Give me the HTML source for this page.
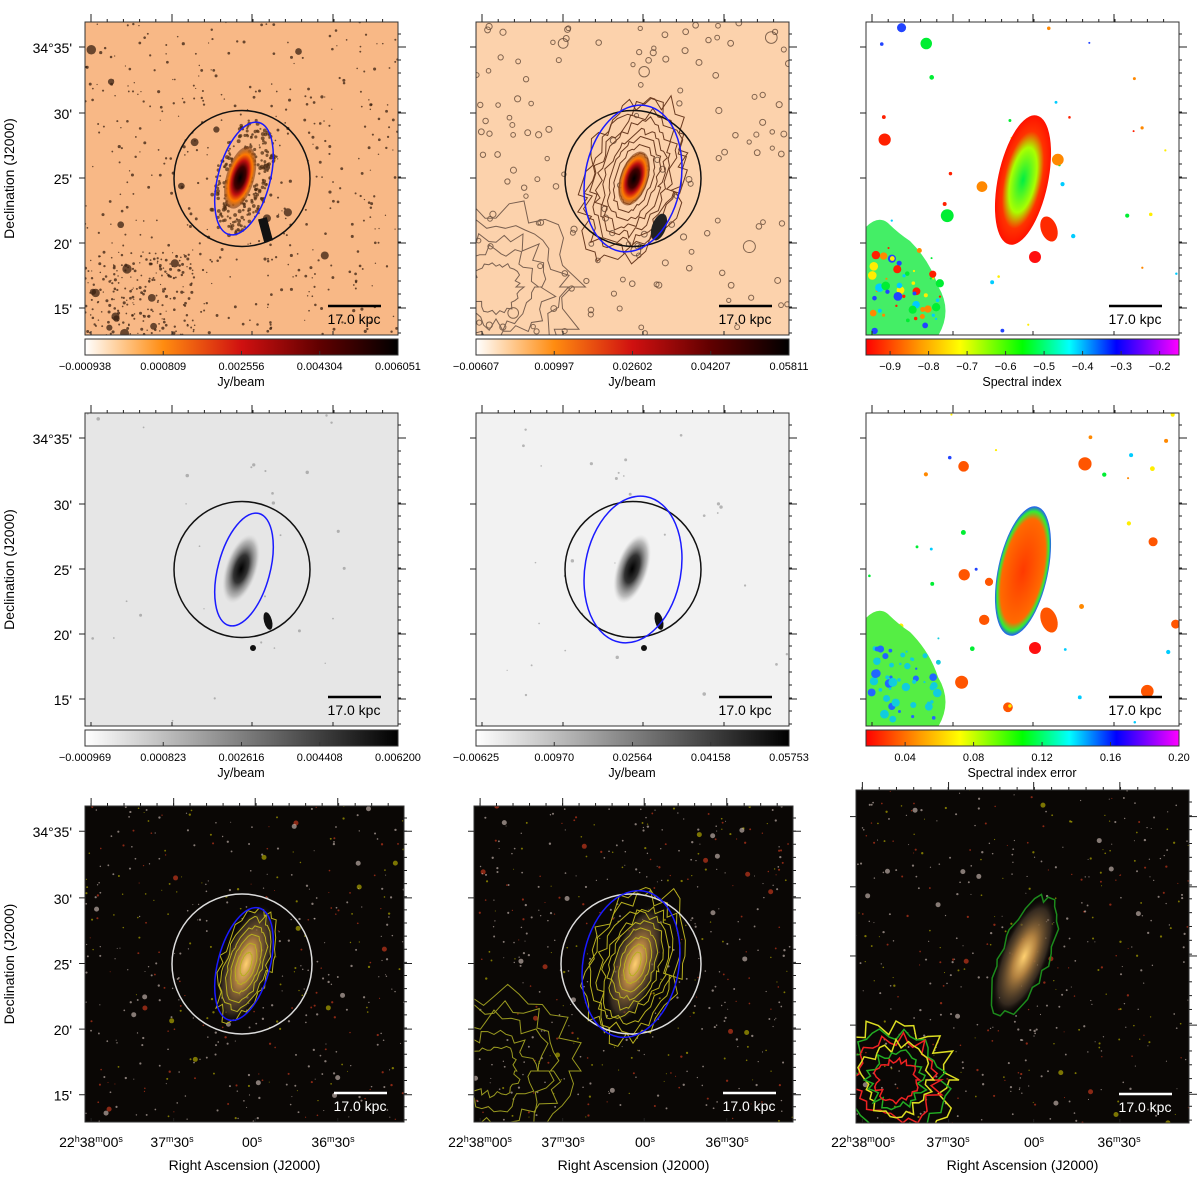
<!DOCTYPE html>
<html><head><meta charset="utf-8">
<style>
html,body{margin:0;padding:0;background:#fff;}
svg{display:block;font-family:"Liberation Sans","DejaVu Sans",sans-serif;}
</style></head>
<body>
<svg id="fig" width="1200" height="1185" viewBox="0 0 1200 1185" xmlns="http://www.w3.org/2000/svg">
<defs>
<linearGradient id="gHot" x1="0" x2="1" y1="0" y2="0">
<stop offset="0" stop-color="#ffffff"/><stop offset="0.25" stop-color="#ff8c10"/><stop offset="0.5" stop-color="#d01010"/><stop offset="0.75" stop-color="#600000"/><stop offset="1" stop-color="#000"/></linearGradient>
<linearGradient id="gGray" x1="0" x2="1" y1="0" y2="0"><stop offset="0" stop-color="#fff"/><stop offset="1" stop-color="#000"/></linearGradient>
<linearGradient id="gRain" x1="0" x2="1" y1="0" y2="0">
<stop offset="0" stop-color="#ff0000"/><stop offset="0.17" stop-color="#ff9900"/><stop offset="0.3" stop-color="#ffff00"/><stop offset="0.5" stop-color="#00ff00"/><stop offset="0.65" stop-color="#00ffff"/><stop offset="0.8" stop-color="#0000ff"/><stop offset="1" stop-color="#ff00ff"/></linearGradient>
<radialGradient id="gCore1"><stop offset="0" stop-color="#000"/><stop offset="0.35" stop-color="#400"/><stop offset="0.55" stop-color="#c01010"/><stop offset="0.75" stop-color="#ff7a00"/><stop offset="1" stop-color="#7a4020" stop-opacity="0.6"/></radialGradient>
<radialGradient id="gCoreG"><stop offset="0" stop-color="#000"/><stop offset="0.4" stop-color="#333"/><stop offset="0.8" stop-color="#999" stop-opacity="0.6"/><stop offset="1" stop-color="#ccc" stop-opacity="0"/></radialGradient>
<radialGradient id="gOpt"><stop offset="0" stop-color="#ffd070"/><stop offset="0.35" stop-color="#b08040"/><stop offset="0.8" stop-color="#504030" stop-opacity="0.6"/><stop offset="1" stop-color="#000" stop-opacity="0"/></radialGradient>
<radialGradient id="gSpec"><stop offset="0" stop-color="#00ee44"/><stop offset="0.5" stop-color="#aaff00"/><stop offset="0.75" stop-color="#ff3300"/><stop offset="1" stop-color="#ff1100"/></radialGradient>
<radialGradient id="gErr"><stop offset="0" stop-color="#ff3a00"/><stop offset="0.8" stop-color="#ff6a00"/><stop offset="0.92" stop-color="#33ee33"/><stop offset="1" stop-color="#2255ff"/></radialGradient>
</defs>
<g id="root"></g>
</svg>
<script>
// colorbar tick labels (data)
const cb1Ticks = ["\u22120.000938","0.000809","0.002556","0.004304","0.006051"];
const cb2Ticks = ["\u22120.00607","0.00997","0.02602","0.04207","0.05811"];
const cb3Ticks = ["\u22120.9","\u22120.8","\u22120.7","\u22120.6","\u22120.5","\u22120.4","\u22120.3","\u22120.2"];
const cb4Ticks = ["\u22120.000969","0.000823","0.002616","0.004408","0.006200"];
const cb5Ticks = ["\u22120.00625","0.00970","0.02564","0.04158","0.05753"];
const cb6Ticks = ["0.04","0.08","0.12","0.16","0.20"];
const decLabels = ["34\u00b035'","30'","25'","20'","15'"];
const raLabels = ["22<tspan dy='-5' font-size='9'>h</tspan><tspan dy='5'>38</tspan><tspan dy='-5' font-size='9'>m</tspan><tspan dy='5'>00</tspan><tspan dy='-5' font-size='9'>s</tspan>",
 "37<tspan dy='-5' font-size='9'>m</tspan><tspan dy='5'>30</tspan><tspan dy='-5' font-size='9'>s</tspan>",
 "00<tspan dy='-5' font-size='9'>s</tspan>",
 "36<tspan dy='-5' font-size='9'>m</tspan><tspan dy='5'>30</tspan><tspan dy='-5' font-size='9'>s</tspan>"];

const NS="http://www.w3.org/2000/svg";
const root=document.getElementById('root');
function el(tag,attrs,parent){const e=document.createElementNS(NS,tag);for(const k in attrs)e.setAttribute(k,attrs[k]);(parent||root).appendChild(e);return e;}
let seed=12345;function rnd(){seed=(seed*1103515245+12345)%2147483648;return seed/2147483648;}
function jag(cx,cy,r,n,amp){let d="";for(let k=0;k<=n;k++){const a=k/n*Math.PI*2;const rr=r*(1+amp*(rnd()-0.5));d+=(k?"L":"M")+(cx+rr*Math.cos(a)).toFixed(1)+" "+(cy+rr*Math.sin(a)).toFixed(1);}return d+"Z";}

const panels=[
 {x:85,y:22,w:313,h:313,bg:"#f8b886",kind:"hot"},
 {x:476,y:22,w:313,h:313,bg:"#fcd2ac",kind:"hot2"},
 {x:866,y:22,w:313,h:313,bg:"#ffffff",kind:"spec"},
 {x:85,y:413,w:313,h:313,bg:"#e6e6e6",kind:"gray"},
 {x:476,y:413,w:313,h:313,bg:"#f2f2f2",kind:"gray2"},
 {x:866,y:413,w:313,h:313,bg:"#ffffff",kind:"err"},
 {x:85,y:806,w:319,h:316,bg:"#0a0705",kind:"opt"},
 {x:474,y:806,w:319,h:316,bg:"#0a0705",kind:"opt2"},
 {x:856,y:790,w:333,h:333,bg:"#0a0705",kind:"opt3"}
];

panels.forEach((p,i)=>{
 const g=el('g',{});
 
 
 const cid='clip'+i;
 const cp=el('clipPath',{id:cid},g);el('rect',{x:p.x,y:p.y,width:p.w,height:p.h},cp);
 const inner=el('g',{'clip-path':'url(#'+cid+')'},g);
 el('rect',{x:p.x,y:p.y,width:p.w,height:p.h,fill:p.bg},inner);
 const cx=p.x+p.w*0.505, cy=p.y+p.h*0.5;
 seed=100+i*7;
 if(p.kind==="hot"||p.kind==="hot2"){
  const n=p.kind==="hot"?650:150;
  for(let k=0;k<n;k++){let sx=p.x+rnd()*p.w,sy=p.y+rnd()*p.h;
   if(p.kind==="hot"&&k<200){sx=p.x+rnd()*110;sy=p.y+230+rnd()*83;}
   const r=rnd()<0.025?3+rnd()*2:0.6+rnd()*1.0;
   el('circle',{cx:sx,cy:sy,r:p.kind==="hot"?r:r+1.5,fill:p.kind==="hot"?"#3a2010":"none",stroke:p.kind==="hot"?"none":"#5a4030","stroke-width":1,opacity:0.75},inner);}
  if(p.kind==="hot2"){
   for(let k=0;k<5;k++)el('path',{d:jag(p.x+20,p.y+265,80-k*14,40,0.35),fill:"none",stroke:"#7a6050","stroke-width":1},inner);
   for(let k=0;k<9;k++)el('path',{d:jag(0,0,1,50,0.08*(k+1)/3),fill:"none",stroke:"#6a3a20","stroke-width":1,transform:`translate(${cx} ${cy}) rotate(18) scale(${8+k*5} ${18+k*8})`,"vector-effect":"non-scaling-stroke"},inner);
   el('ellipse',{cx:cx,cy:cy,rx:14,ry:28,fill:"url(#gCore1)",transform:`rotate(18 ${cx} ${cy})`},inner);
   el('ellipse',{cx:p.x+183,cy:p.y+205,rx:7,ry:14,fill:"#222",transform:`rotate(20 ${p.x+183} ${p.y+205})`},inner);
  } else {
   for(let k=0;k<250;k++){const a=rnd()*6.283,rr=Math.sqrt(rnd());const ex=28*rr*Math.cos(a),ey=62*rr*Math.sin(a);const c=Math.cos(0.28),s=Math.sin(0.28);
     el('circle',{cx:cx+ex*c-ey*s,cy:cy+ex*s+ey*c,r:1+rnd(),fill:"#4a2a10",opacity:0.7},inner);}
   el('ellipse',{cx:cx-3,cy:cy,rx:14,ry:32,fill:"url(#gCore1)",transform:`rotate(16 ${cx} ${cy})`},inner);
   el('rect',{x:p.x+176,y:p.y+196,width:9,height:24,fill:"#111",transform:`rotate(-15 ${p.x+180} ${p.y+208})`},inner);
  }
 } else if(p.kind==="gray"||p.kind==="gray2"){
  for(let k=0;k<30;k++){el('circle',{cx:p.x+rnd()*p.w,cy:p.y+rnd()*p.h,r:0.6+rnd()*1.2,fill:"#777",opacity:0.5},inner);}
  el('ellipse',{cx:cx-2,cy:cy,rx:16,ry:36,fill:"url(#gCoreG)",transform:`rotate(18 ${cx} ${cy})`},inner);
  el('ellipse',{cx:p.x+183,cy:p.y+208,rx:4,ry:9,fill:"#111",transform:`rotate(-15 ${p.x+183} ${p.y+208})`},inner);
  el('circle',{cx:p.x+168,cy:p.y+235,r:3,fill:"#111"},inner);
 } else if(p.kind==="spec"||p.kind==="err"){
  const cols=["#ff2000","#00ee33","#ffee00","#00ccff","#2244ff","#ff8800"];
  for(let k=0;k<45;k++){const r=rnd()<0.2?4+rnd()*3:1+rnd()*1.5;el('circle',{cx:p.x+rnd()*p.w,cy:p.y+rnd()*p.h,r:r,fill:p.kind==="err"&&r>3?"#ff5500":cols[k%6]},inner);}
  el('path',{d:`M${p.x} ${p.y+205} q 12 -12 22 -4 q 10 10 22 18 q 20 20 28 45 q 15 25 0 50 l -72 0 z`,fill:p.kind==="spec"?"#44ee66":"#55ee44"},inner);
  for(let k=0;k<50;k++){el('circle',{cx:p.x+5+rnd()*70,cy:p.y+225+rnd()*85,r:1+rnd()*3.5,fill:p.kind==="spec"?cols[(k*5)%6]:(k%3?"#11ccdd":"#2266ff")},inner);}
  el('ellipse',{cx:p.x+157,cy:p.y+158,rx:25,ry:66,fill:p.kind==="spec"?"url(#gSpec)":"url(#gErr)",transform:`rotate(12 ${p.x+157} ${p.y+158})`},inner);
  el('ellipse',{cx:p.x+183,cy:p.y+207,rx:8,ry:13,fill:p.kind==="spec"?"#ff2a00":"#ff5500",transform:`rotate(-20 ${p.x+183} ${p.y+207})`},inner);
  el('circle',{cx:p.x+169,cy:p.y+235,r:6,fill:"#ff1010"},inner);
 } else {
  for(let k=0;k<450;k++){const r=rnd()<0.04?2.5:0.5+rnd()*0.7;const c=rnd()<0.55?"#d8c8c0":(rnd()<0.5?"#e04020":"#c8c000");
   el('circle',{cx:p.x+rnd()*p.w,cy:p.y+rnd()*p.h,r:r,fill:c,opacity:0.6},inner);}
  const rot=p.kind==="opt3"?22:18;
  el('ellipse',{cx:cx,cy:cy,rx:24,ry:64,fill:"url(#gOpt)",transform:`rotate(${rot} ${cx} ${cy})`},inner);
  if(p.kind==="opt3"){
   el('path',{d:jag(0,0,1,40,0.15),fill:"none",stroke:"#1c8a1c","stroke-width":1.5,transform:`translate(${cx} ${cy}) rotate(${rot}) scale(24 64)`,"vector-effect":"non-scaling-stroke"},inner);
   for(let k=0;k<6;k++)el('path',{d:jag(p.x+40,p.y+290,55-k*7,40,0.4),fill:"none",stroke:["#dddd22","#22aa22","#ee2222"][k%3],"stroke-width":1.5},inner);
  } else {
   for(let k=0;k<(p.kind==="opt"?6:9);k++)el('path',{d:jag(0,0,1,40,0.06*(k+1)/2),fill:"none",stroke:"#b8b020","stroke-width":1,transform:`translate(${cx} ${cy}) rotate(${rot}) scale(${5+k*(p.kind==="opt"?4:5)} ${12+k*(p.kind==="opt"?9:8)})`,"vector-effect":"non-scaling-stroke"},inner);
   if(p.kind==="opt2")for(let k=0;k<5;k++)el('path',{d:jag(p.x+20,p.y+265,80-k*14,40,0.35),fill:"none",stroke:"#9a9a20","stroke-width":1},inner);
  }
 }
 if(p.kind!=="spec"&&p.kind!=="err"&&p.kind!=="opt3"){
  const big=(p.kind==="hot2"||p.kind==="gray2"||p.kind==="opt2");
  const ccx=p.x+157, ccy=p.y+p.h*0.5;
  const circ=el('circle',{cx:ccx,cy:ccy,r:p.kind.startsWith("opt")?70:68,fill:"none",stroke:p.kind.startsWith("opt")?"#ddd":"#111","stroke-width":1.5},inner);
  
  
  const ex=big?ccx:ccx+2;
  const ell=el('ellipse',{cx:ex,cy:ccy,rx:big?48:26,ry:big?74:58,fill:"none",stroke:"#1a1aff","stroke-width":1.5,transform:`rotate(${big?10:15} ${ex} ${ccy})`},inner);
  
  
 }
 const dark=p.kind.startsWith("opt");
 const sbx=p.x+p.w-70, sby=p.y+p.h-29;
 el('line',{x1:sbx,x2:sbx+53,y1:sby,y2:sby,stroke:dark?"#fff":"#000","stroke-width":2.5},inner);
 const st=el('text',{x:sbx+26,y:sby+18,"text-anchor":"middle","font-size":14,fill:dark?"#fff":"#000"},inner);
 st.textContent="17.0 kpc";
 
 
 el('rect',{x:p.x,y:p.y,width:p.w,height:p.h,fill:"none",stroke:"#333","stroke-width":1},g);
 const tx=[6,87,167,248];
 tx.forEach(t=>{el('line',{x1:p.x+t*p.w/313,x2:p.x+t*p.w/313,y1:p.y,y2:p.y-8,stroke:"#222","stroke-width":1},g);
   el('line',{x1:p.x+t*p.w/313,x2:p.x+t*p.w/313,y1:p.y+p.h,y2:p.y+p.h-4,stroke:"#222","stroke-width":1},g);});
 for(let k=0;k<20;k++){const xx=p.x+6+k*16.2*p.w/313;if(xx<p.x+p.w){el('line',{x1:xx,x2:xx,y1:p.y,y2:p.y-3,stroke:"#222"},g);}}
 [25,91,156,221,286].forEach(t=>{const yy=p.y+t*p.h/313;el('line',{x1:p.x+p.w,x2:p.x+p.w+8,y1:yy,y2:yy,stroke:"#222"},g);el('line',{x1:p.x,x2:p.x-6,y1:yy,y2:yy,stroke:"#222"},g);});
 for(let k=0;k<24;k++){const yy=p.y+12+k*13*p.h/313;if(yy<p.y+p.h){el('line',{x1:p.x+p.w,x2:p.x+p.w+3,y1:yy,y2:yy,stroke:"#222"},g);}}
});

[[22,313],[413,313],[806,316]].forEach(([y0,h],r)=>{
 decLabels.forEach((lab,j)=>{const t=el('text',{x:72,y:y0+[25,91,156,221,286][j]*h/313+6,"text-anchor":"end","font-size":14,fill:"#000"});t.textContent=lab;
  });
 const yl=el('text',{x:14,y:y0+h/2,"text-anchor":"middle","font-size":14,fill:"#000",transform:`rotate(-90 14 ${y0+h/2})`});
 yl.textContent="Declination (J2000)";
 
});
[[85,319,[6,87,167,248]],[474,319,[6,89,171,253]],[856,333,[7,92,178,263]]].forEach(([x0,w,pos])=>{
 raLabels.forEach((lab,j)=>{const t=el('text',{x:x0+pos[j],y:1147,"text-anchor":"middle","font-size":14,fill:"#000"});t.innerHTML=lab;
  });
 const xl=el('text',{x:x0+w/2,y:1170,"text-anchor":"middle","font-size":14,fill:"#000"});xl.textContent="Right Ascension (J2000)";
 
});

const cbs=[[85,339,cb1Ticks,"gHot","Jy/beam",0,1],[476,339,cb2Ticks,"gHot","Jy/beam",0,1],[866,339,cb3Ticks,"gRain","Spectral index",0.077,0.938],
 [85,730,cb4Ticks,"gGray","Jy/beam",0,1],[476,730,cb5Ticks,"gGray","Jy/beam",0,1],[866,730,cb6Ticks,"gRain","Spectral index error",0.125,1.0]];
cbs.forEach(([x,y,ticks,grad,title,f0,f1])=>{
 const g=el('g',{});
 el('rect',{x:x,y:y,width:313,height:16,fill:`url(#${grad})`,stroke:"#333","stroke-width":1},g);
 ticks.forEach((lab,j)=>{const f=f0+(f1-f0)*j/(ticks.length-1);const tx=x+313*f;
  el('line',{x1:tx,x2:tx,y1:y+16,y2:y+12,stroke:"#333"},g);
  const t=el('text',{x:tx,y:y+31,"text-anchor":"middle","font-size":11,fill:"#000"},g);t.textContent=lab;
  });
 const tt=el('text',{x:x+156,y:y+47,"text-anchor":"middle","font-size":12.5,fill:"#000"},g);tt.textContent=title;
 
});
</script>
</body></html>
